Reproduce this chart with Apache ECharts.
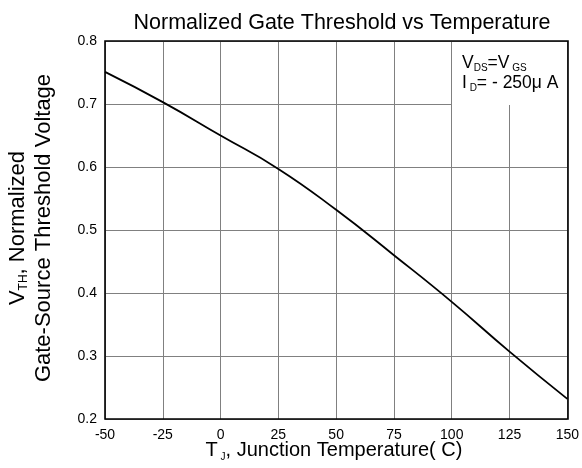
<!DOCTYPE html>
<html><head><meta charset="utf-8">
<script src="https://cdn.jsdelivr.net/npm/echarts@6/dist/echarts.min.js"></script>
<style>html,body{margin:0;padding:0;background:#fff}#c{width:582px;height:468px}</style>
</head><body><div id="c"></div>
<script>
const temps = [-50, -25, 0, 25, 50, 75, 100, 125, 150];
const vth = [0.751, 0.703, 0.650, 0.597, 0.532, 0.460, 0.386, 0.307, 0.232];
const xTicks = [-50, 150, 25];
const yTicks = [0.2, 0.8, 0.1];
const F = '"Liberation Sans", Arial, sans-serif';
const chart = echarts.init(document.getElementById('c'));
const G = {left: 105, top: 41, right: 14, bottom: 49};
chart.setOption({
  animation: false,
  backgroundColor: '#fff',
  title: {text: 'Normalized Gate Threshold vs Temperature', left: 337, textAlign: 'center', top: 7,
    textStyle: {fontFamily: F, fontSize: 21.5, fontWeight: 'normal', color: '#000'}},
  grid: G,
  xAxis: {type: 'value', min: xTicks[0], max: xTicks[1], interval: xTicks[2],
    axisLine: {show: false}, axisTick: {show: false},
    axisLabel: {fontFamily: F, fontSize: 14, color: '#000', margin: 9},
    splitLine: {lineStyle: {color: '#808080', width: 1}}},
  yAxis: {type: 'value', min: yTicks[0], max: yTicks[1], interval: yTicks[2],
    axisLine: {show: false}, axisTick: {show: false},
    axisLabel: {fontFamily: F, fontSize: 14, color: '#000', margin: 8, formatter: v => v.toFixed(1)},
    splitLine: {lineStyle: {color: '#808080', width: 1}}},
  series: [
    {type: 'line', data: temps.map((t, i) => [t, vth[i]]), smooth: true, symbol: 'none',
     lineStyle: {color: '#000', width: 1.8}, z: 5}
  ],
  graphic: [
    {type: 'rect', shape: {x: 452, y: 42, width: 115, height: 63}, style: {fill: '#fff'}, z: 1},
    {type: 'rect', shape: {x: 105, y: 41, width: 463, height: 378}, style: {fill: 'none', stroke: '#000', lineWidth: 1.6}, z: 10},
    {type: 'text', left: 462, top: 53, z: 11, style: {
      text: '{m|V}{s|DS}{m|=V}{s| GS}\n{m|I}{s| D}{m|= - 250μ A}', fill: '#000',
      rich: {m: {fontFamily: F, fontSize: 17.5, lineHeight: 20}, s: {fontFamily: F, fontSize: 10, padding: [10, 0, 0, 0], lineHeight: 20}}}},
    {type: 'text', x: 18, y: 228, rotation: Math.PI / 2, z: 11, style: {
      text: '{m|V}{s|TH}{m|, Normalized}', align: 'center', verticalAlign: 'middle', fill: '#000',
      rich: {m: {fontFamily: F, fontSize: 22}, s: {fontFamily: F, fontSize: 12, padding: [12, 0, 0, 0]}}}},
    {type: 'text', x: 44, y: 228, rotation: Math.PI / 2, z: 11, style: {
      text: 'Gate-Source Threshold Voltage', align: 'center', verticalAlign: 'middle', fill: '#000',
      font: '22px ' + F}},
    {type: 'text', x: 334, y: 450, z: 11, style: {
      text: '{m|T}{s| J}{m|, Junction Temperature( C)}', align: 'center', verticalAlign: 'middle', fill: '#000',
      rich: {m: {fontFamily: F, fontSize: 20}, s: {fontFamily: F, fontSize: 10, padding: [14, 0, 0, 0]}}}}
  ]
});
</script></body></html>
